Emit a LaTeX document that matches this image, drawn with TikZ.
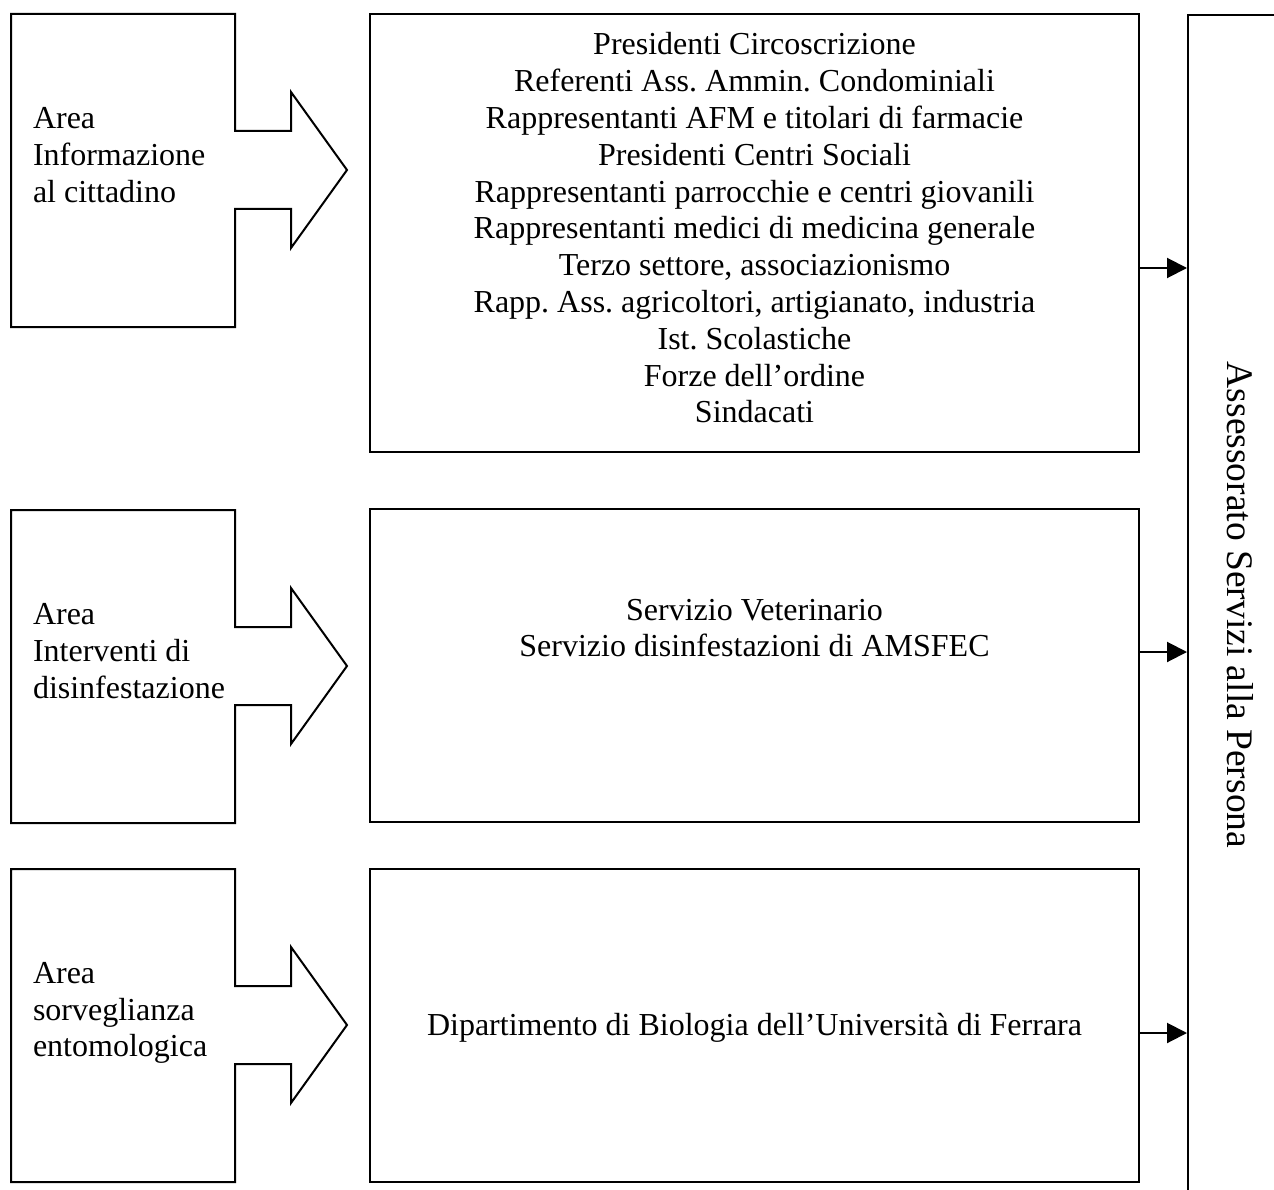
\documentclass[tikz,border=0pt]{standalone}
\usepackage{fontspec}
\setmainfont{Liberation Serif}
\usetikzlibrary{arrows.meta}
\frenchspacing

\begin{document}
\begin{tikzpicture}[x=1pt,y=-1pt,line width=2pt,
  every node/.style={font=\fontsize{32}{36.8}\selectfont,inner sep=0pt},
  freccia/.style={draw,line join=miter},
  entibox/.style={draw,minimum width=769pt,minimum height=313pt},
  areatxt/.style={anchor=west,align=left},
  entitxt/.style={align=center},
  collega/.style={-{Triangle[length=20pt,width=20pt]}}]
 \path[use as bounding box] (0,0) rectangle (1274,1190);
 \clip (0,0) rectangle (1274,1190);
 \draw[freccia] (11,14)--(235,14)--(235,131)--(291,131)--(291,92)--(347,170)--(291,248)--(291,209)--(235,209)--(235,327)--(11,327)--cycle;
 \draw[freccia] (11,510)--(235,510)--(235,627)--(291,627)--(291,588)--(347,666)--(291,744)--(291,705)--(235,705)--(235,823)--(11,823)--cycle;
 \draw[freccia] (11,869)--(235,869)--(235,986)--(291,986)--(291,947)--(347,1025)--(291,1103)--(291,1064)--(235,1064)--(235,1182)--(11,1182)--cycle;
 \node[areatxt] (area1) at (32,155) {Area\\Informazione\\al cittadino};
 \node[areatxt] (area2) at (32,651) {Area\\Interventi di\\disinfestazione};
 \node[areatxt] (area3) at (32,1013) {Area\\sorveglianza\\entomologica};
 \node[entibox,minimum height=438pt] (enti1) at (754.5,233) {};
 \node[entibox] (enti2) at (754.5,665.5) {};
 \node[entibox] (enti3) at (754.5,1025.5) {};
 \node[entitxt] (txt1) at (754.5,228) {Presidenti Circoscrizione\\Referenti Ass. Ammin. Condominiali\\Rappresentanti AFM e titolari di farmacie\\Presidenti Centri Sociali\\Rappresentanti parrocchie e centri giovanili\\Rappresentanti medici di medicina generale\\Terzo settore, associazionismo\\Rapp. Ass. agricoltori, artigianato, industria\\Ist. Scolastiche\\Forze dell’ordine\\Sindacati};
 \node[entitxt] (txt2) at (754.5,628) {Servizio Veterinario\\Servizio disinfestazioni di AMSFEC};
 \node[entitxt] (txt3) at (754.5,1028) {Dipartimento di Biologia dell’Università di Ferrara};
 \node[draw,anchor=north west,minimum width=200pt,minimum height=1300pt] (ass) at (1187,14) {};
 \node[rotate=-90,font=\fontsize{37.5}{43}\selectfont] (asstxt) at (1240,605) {Assessorato Servizi alla Persona};
 \coordinate (c1) at (0,268);
 \coordinate (c2) at (0,652);
 \coordinate (c3) at (0,1033);
 \draw[collega] (enti1.east |- c1) -- (ass.west |- c1);
 \draw[collega] (enti2.east |- c2) -- (ass.west |- c2);
 \draw[collega] (enti3.east |- c3) -- (ass.west |- c3);
\end{tikzpicture}
\end{document}
